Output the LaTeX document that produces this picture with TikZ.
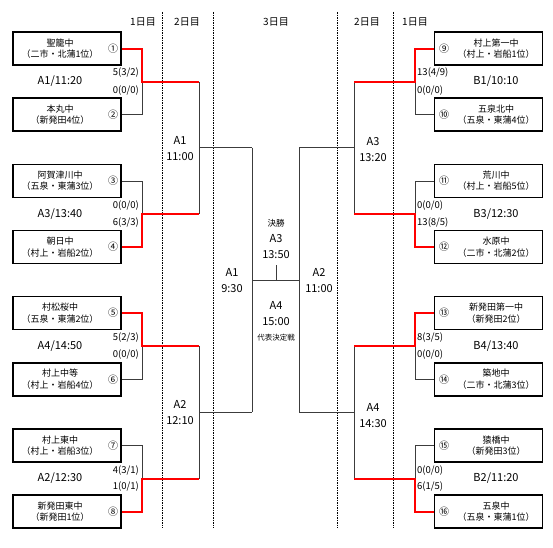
\documentclass[tikz,border=0pt]{standalone}
\usepackage{fontspec}
\setmainfont{Noto Sans CJK JP}
\usetikzlibrary{positioning, calc}
\definecolor{winred}{RGB}{255, 0, 0}
\definecolor{linegray}{RGB}{60, 60, 60}

\begin{document}
\begin{tikzpicture}[
    x=1pt, y=-1pt,
    team/.style={draw, line width=1.6pt, minimum width=108pt, minimum height=33pt, inner sep=0pt},
    school/.style={align=center, font=\fontsize{9}{11.5}\selectfont, inner sep=0pt},
    seed/.style={font=\fontsize{10}{10}\selectfont, inner sep=0pt},
    score/.style={font=\fontsize{9.5}{9.5}\selectfont, inner sep=0pt},
    game/.style={font=\fontsize{11}{11}\selectfont, inner sep=0pt},
    slot/.style={align=center, font=\fontsize{11}{16}\selectfont, inner sep=0pt},
    day/.style={font=\fontsize{10}{10}\selectfont, inner sep=0pt},
    won/.style={winred, line width=2pt},
    lost/.style={linegray, line width=0.6pt},
    daysep/.style={black, line width=0.5pt, dash pattern=on 1.5pt off 1pt}
  ]
    \useasboundingbox (0,0) rectangle (553,547);

    % day separators
    \draw[daysep] (162,12) -- (162,528);
    \draw[daysep] (213,12) -- (213,528);
    \draw[daysep] (337,12) -- (337,528);
    \draw[daysep] (393,12) -- (393,528);

    \node[day] (dL1) at (143,22) {1日目};
    \node[day] (dL2) at (187,22) {2日目};
    \node[day] (dC3) at (276,22) {3日目};
    \node[day] (dR2) at (367,22) {2日目};
    \node[day] (dR1) at (415,22) {1日目};

    % left side teams
    \node[team] (t1) at (67,48.5) {};
    \node[school] (s1) at (60,48.5) {聖籠中\\（二市・北蒲1位）};
    \node[seed] (n1) at (113,48.5) {①};
    \node[team] (t2) at (67,114.6) {};
    \node[school] (s2) at (60,114.6) {本丸中\\（新発田4位）};
    \node[seed] (n2) at (113,114.6) {②};
    \node[team] (t3) at (67,180.8) {};
    \node[school] (s3) at (60,180.8) {阿賀津川中\\（五泉・東蒲3位）};
    \node[seed] (n3) at (113,180.8) {③};
    \node[team] (t4) at (67,246.9) {};
    \node[school] (s4) at (60,246.9) {朝日中\\（村上・岩船2位）};
    \node[seed] (n4) at (113,246.9) {④};
    \node[team] (t5) at (67,313.1) {};
    \node[school] (s5) at (60,313.1) {村松桜中\\（五泉・東蒲2位）};
    \node[seed] (n5) at (113,313.1) {⑤};
    \node[team] (t6) at (67,379.2) {};
    \node[school] (s6) at (60,379.2) {村上中等\\（村上・岩船4位）};
    \node[seed] (n6) at (113,379.2) {⑥};
    \node[team] (t7) at (67,445.4) {};
    \node[school] (s7) at (60,445.4) {村上東中\\（村上・岩船3位）};
    \node[seed] (n7) at (113,445.4) {⑦};
    \node[team] (t8) at (67,511.5) {};
    \node[school] (s8) at (60,511.5) {新発田東中\\（新発田1位）};
    \node[seed] (n8) at (113,511.5) {⑧};

    % right side teams
    \node[team] (t9) at (488.5,48.5) {};
    \node[school] (s9) at (496,48.5) {村上第一中\\（村上・岩船1位）};
    \node[seed] (n9) at (444,48.5) {⑨};
    \node[team] (t10) at (488.5,114.6) {};
    \node[school] (s10) at (496,114.6) {五泉北中\\（五泉・東蒲4位）};
    \node[seed] (n10) at (444,114.6) {⑩};
    \node[team] (t11) at (488.5,180.8) {};
    \node[school] (s11) at (496,180.8) {荒川中\\（村上・岩船5位）};
    \node[seed] (n11) at (444,180.8) {⑪};
    \node[team] (t12) at (488.5,246.9) {};
    \node[school] (s12) at (496,246.9) {水原中\\（二市・北蒲2位）};
    \node[seed] (n12) at (444,246.9) {⑫};
    \node[team] (t13) at (488.5,313.1) {};
    \node[school] (s13) at (496,313.1) {新発田第一中\\（新発田2位）};
    \node[seed] (n13) at (444,313.1) {⑬};
    \node[team] (t14) at (488.5,379.2) {};
    \node[school] (s14) at (496,379.2) {築地中\\（二市・北蒲3位）};
    \node[seed] (n14) at (444,379.2) {⑭};
    \node[team] (t15) at (488.5,445.4) {};
    \node[school] (s15) at (496,445.4) {猿橋中\\（新発田3位）};
    \node[seed] (n15) at (444,445.4) {⑮};
    \node[team] (t16) at (488.5,511.5) {};
    \node[school] (s16) at (496,511.5) {五泉中\\（五泉・東蒲1位）};
    \node[seed] (n16) at (444,511.5) {⑯};

    % bracket joints
    \coordinate (a1) at (142,81.6);
    \coordinate (a2) at (142,213.9);
    \coordinate (a3) at (142,346.2);
    \coordinate (a4) at (142,478.5);
    \coordinate (b1) at (199,81.6);
    \coordinate (b2) at (199,213.9);
    \coordinate (b3) at (199,346.2);
    \coordinate (b4) at (199,478.5);
    \coordinate (bm1) at (199,147.7);
    \coordinate (bm2) at (199,412.3);
    \coordinate (c1) at (252,147.7);
    \coordinate (c2) at (252,412.3);
    \coordinate (cm) at (252,280);
    \coordinate (e1) at (415,81.6);
    \coordinate (e2) at (415,213.9);
    \coordinate (e3) at (415,346.2);
    \coordinate (e4) at (415,478.5);
    \coordinate (f1) at (354,81.6);
    \coordinate (f2) at (354,213.9);
    \coordinate (f3) at (354,346.2);
    \coordinate (f4) at (354,478.5);
    \coordinate (fm1) at (354,147.7);
    \coordinate (fm2) at (354,412.3);
    \coordinate (d1) at (299,147.7);
    \coordinate (d2) at (299,412.3);
    \coordinate (dm) at (299,280);
    \coordinate (tk) at (276,265);

    % losing / open lines
    \draw[lost] (t2.east) -| (a1);
    \draw[lost] (t3.east) -| (a2);
    \draw[lost] (t6.east) -| (a3);
    \draw[lost] (t7.east) -| (a4);
    \draw[lost] (t10.west) -| (e1);
    \draw[lost] (t11.west) -| (e2);
    \draw[lost] (t14.west) -| (e3);
    \draw[lost] (t15.west) -| (e4);
    \draw[lost] (b1) -- (b2);
    \draw[lost] (b3) -- (b4);
    \draw[lost] (bm1) -- (c1);
    \draw[lost] (bm2) -- (c2);
    \draw[lost] (f1) -- (f2);
    \draw[lost] (f3) -- (f4);
    \draw[lost] (fm1) -- (d1);
    \draw[lost] (fm2) -- (d2);
    \draw[lost] (c1) -- (c2);
    \draw[lost] (d1) -- (d2);
    \draw[lost] (cm) -- (dm);
    \draw[lost] (tk) -- (tk |- cm);

    % winners
    \draw[won] (t1.east) -| (a1) -- (b1);
    \draw[won] (t4.east) -| (a2) -- (b2);
    \draw[won] (t5.east) -| (a3) -- (b3);
    \draw[won] (t8.east) -| (a4) -- (b4);
    \draw[won] (t9.west) -| (e1) -- (f1);
    \draw[won] (t12.west) -| (e2) -- (f2);
    \draw[won] (t13.west) -| (e3) -- (f3);
    \draw[won] (t16.west) -| (e4) -- (f4);

    % first round results
    \node[game] (g1) at (60,81.6) {A1/11:20};
    \node[score, anchor=east] (p1) at (139,72.6) {5(3/2)};
    \node[score, anchor=east] (p2) at (139,90.2) {0(0/0)};
    \node[game] (g2) at (60,213.9) {A3/13:40};
    \node[score, anchor=east] (p3) at (139,205.6) {0(0/0)};
    \node[score, anchor=east] (p4) at (139,222.4) {6(3/3)};
    \node[game] (g3) at (60,346.2) {A4/14:50};
    \node[score, anchor=east] (p5) at (139,337.8) {5(2/3)};
    \node[score, anchor=east] (p6) at (139,354.6) {0(0/0)};
    \node[game] (g4) at (60,478.5) {A2/12:30};
    \node[score, anchor=east] (p7) at (139,470.1) {4(3/1)};
    \node[score, anchor=east] (p8) at (139,486.9) {1(0/1)};
    \node[game] (g5) at (496,81.6) {B1/10:10};
    \node[score, anchor=west] (p9) at (417,72.6) {13(4/9)};
    \node[score, anchor=west] (p10) at (417,90.2) {0(0/0)};
    \node[game] (g6) at (496,213.9) {B3/12:30};
    \node[score, anchor=west] (p11) at (417,205.6) {0(0/0)};
    \node[score, anchor=west] (p12) at (417,222.4) {13(8/5)};
    \node[game] (g7) at (496,346.2) {B4/13:40};
    \node[score, anchor=west] (p13) at (417,337.8) {8(3/5)};
    \node[score, anchor=west] (p14) at (417,354.6) {0(0/0)};
    \node[game] (g8) at (496,478.5) {B2/11:20};
    \node[score, anchor=west] (p15) at (417,470.1) {0(0/0)};
    \node[score, anchor=west] (p16) at (417,486.9) {6(1/5)};

    % later rounds
    \node[slot] (r1) at (180,149) {A1\\11:00};
    \node[slot] (r2) at (180,413) {A2\\12:10};
    \node[slot] (r3) at (373,150) {A3\\13:20};
    \node[slot] (r4) at (373,415.5) {A4\\14:30};
    \node[slot] (q1) at (232,280.5) {A1\\9:30};
    \node[slot] (q2) at (319,280.5) {A2\\11:00};
    \node[slot] (fin) at (276,239) {{\fontsize{8.5}{16}\selectfont 決勝}\\A3\\13:50};
    \node[slot] (rep) at (276,314) {A4\\15:00};
    \node[font=\fontsize{7.5}{7.5}\selectfont, inner sep=0pt] (repnote) at (276,338) {代表決定戦};
\end{tikzpicture}
\end{document}
